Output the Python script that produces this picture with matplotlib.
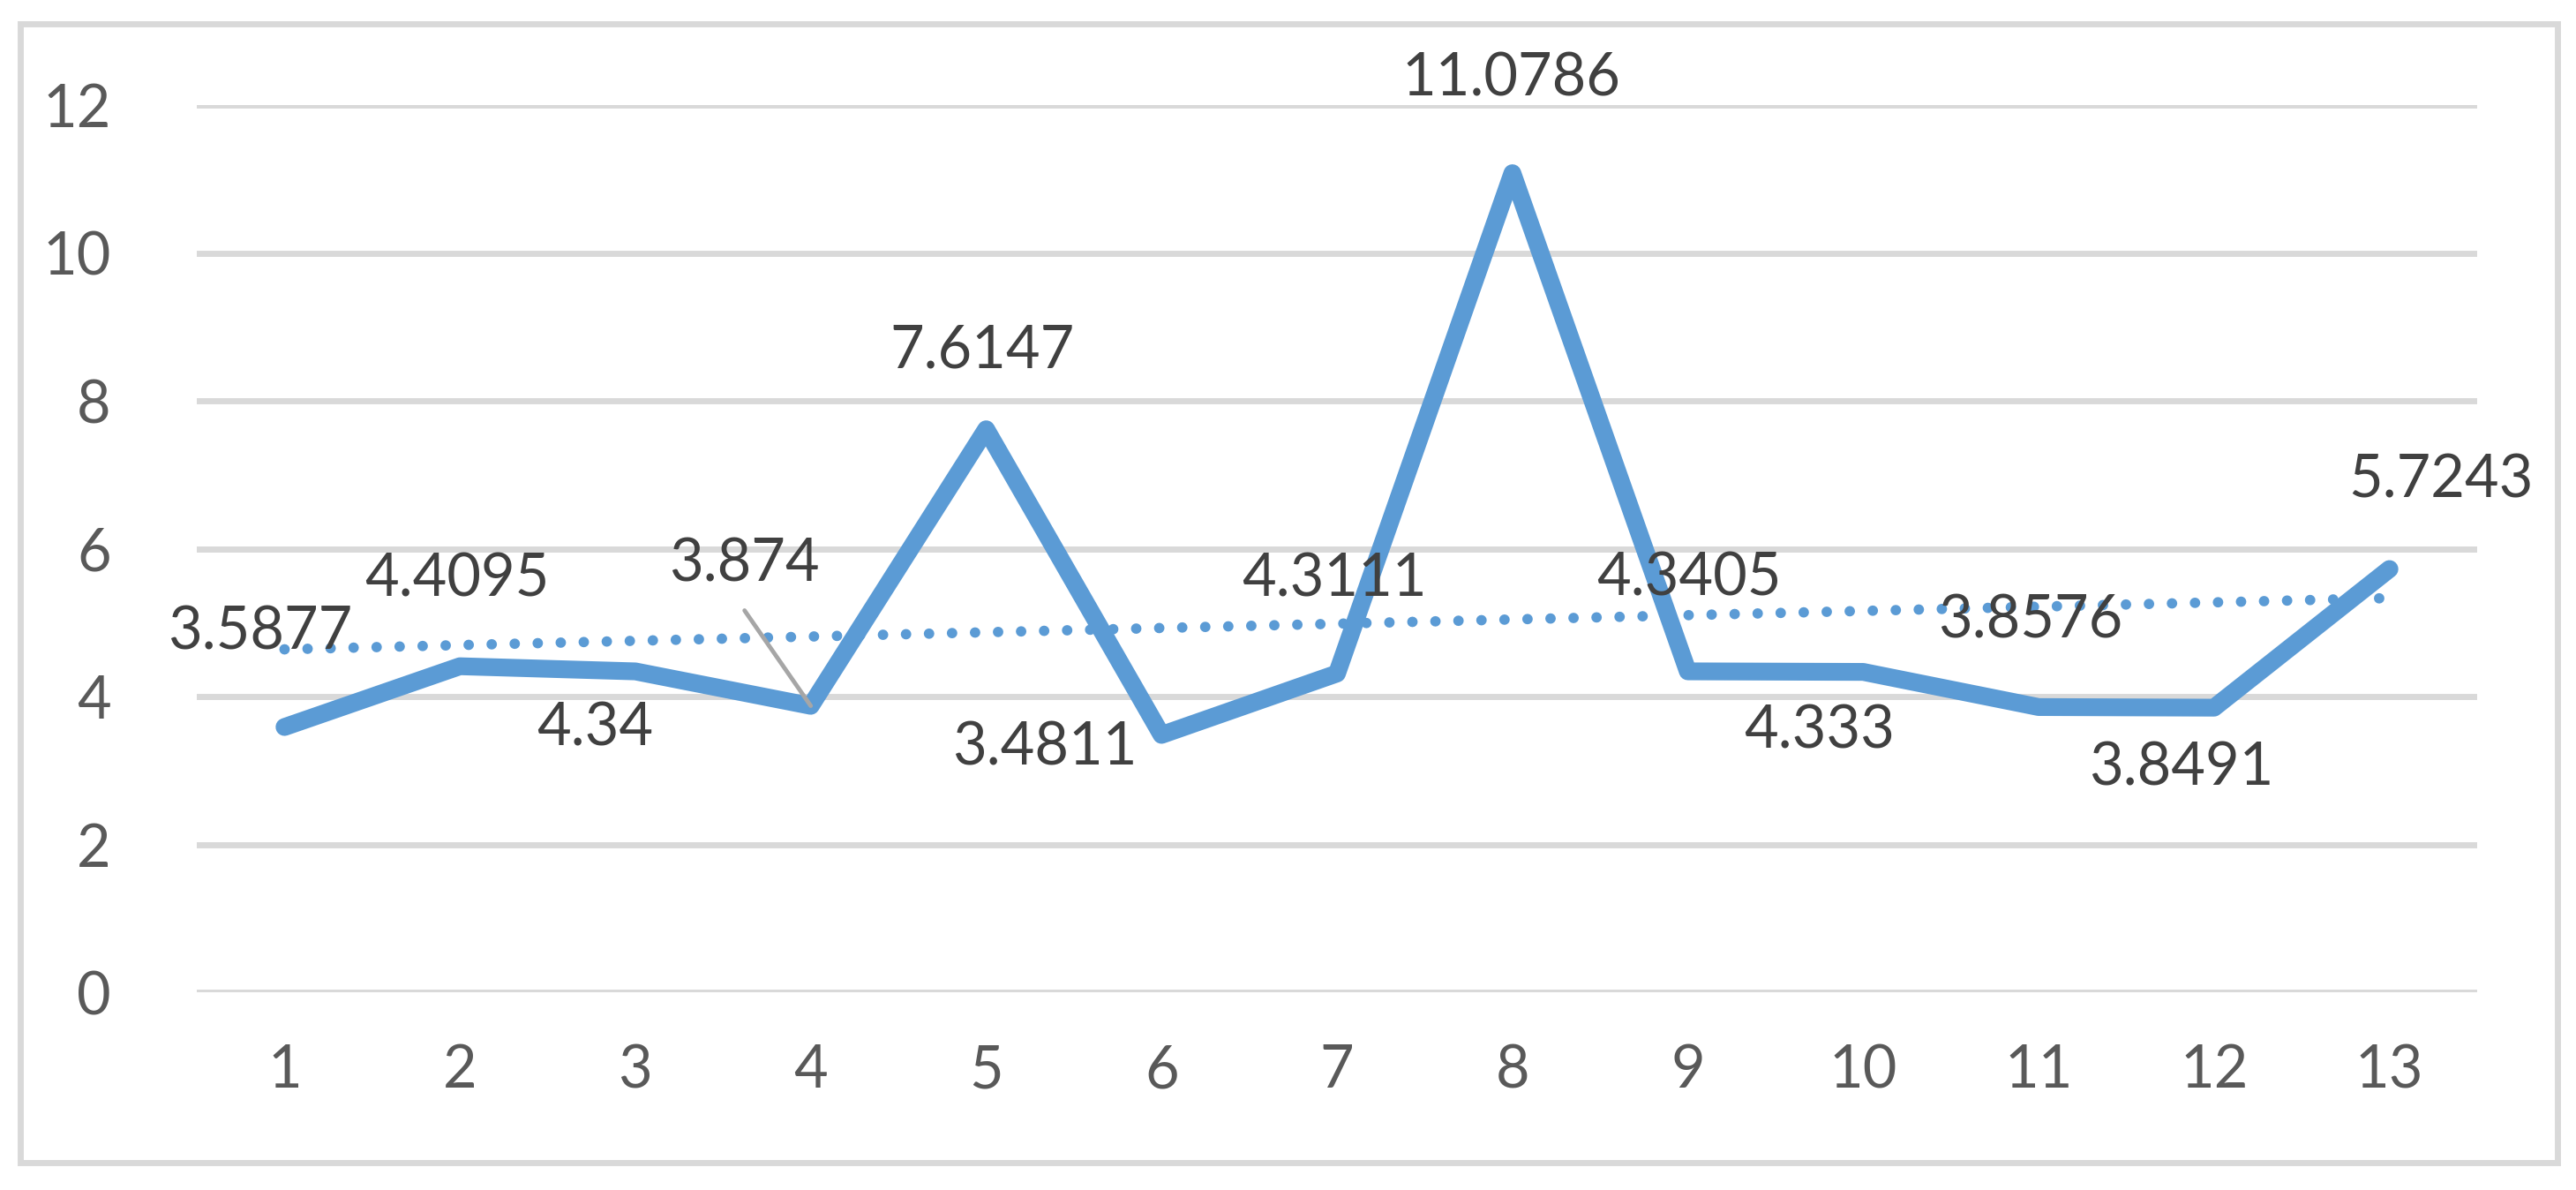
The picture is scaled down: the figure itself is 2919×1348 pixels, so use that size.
import numpy as np
import matplotlib
matplotlib.use('Agg')
import matplotlib.pyplot as plt
from matplotlib.patches import Rectangle

# data
categories = ['1', '2', '3', '4', '5', '6', '7', '8', '9', '10', '11', '12', '13']
values = [3.5877, 4.4095, 4.34, 3.874, 7.6147, 3.4811, 4.3111,
          11.0786, 4.3405, 4.333, 3.8576, 3.8491, 5.7243]
y_ticks = [0, 2, 4, 6, 8, 10, 12]

# label placement (offset in pixels from the point), Excel style
label_offsets = [(-28, 107), (-3, 98), (-46, -65), (-75, 160), (-4, 89),
                 (-132, -15), (-3, 106), (-1, 107), (1, 105), (-50, -67),
                 (-9, 97), (-37, -69), (58, 100)]

blue = '#5B9BD5'
grid_c = '#D9D9D9'

plt.rcParams['font.family'] = ['Lato', 'DejaVu Sans']

fig = plt.figure(figsize=(29.19, 13.48), dpi=100)
ax = fig.add_axes([223 / 2919, 1 - 1124 / 1348, (2807 - 223) / 2919, (1124 - 119) / 1348])

x = np.arange(1, len(values) + 1)

# chart border
fig.patches.append(Rectangle((23 / 2919, 1 - 1317 / 1348), (2898 - 23) / 2919, (1317 - 27) / 1348,
                             transform=fig.transFigure, fill=False, edgecolor=grid_c, linewidth=5))

for yv in y_ticks:
    ax.axhline(yv, color=grid_c, linewidth=5, zorder=0)

ax.plot(x, values, color=blue, linewidth=14.5, solid_capstyle='round', solid_joinstyle='round', zorder=3)

# linear trendline
k, b = np.polyfit(x, values, 1)
ax.plot(x, k * x + b, color=blue, linewidth=8.5, linestyle=(0, (0.01, 2.2)),
        dash_capstyle='round', zorder=2)

for i, (xi, v) in enumerate(zip(x, values)):
    dx, dy = label_offsets[i]
    ax.annotate(str(v), (xi, v), xytext=(dx, dy), textcoords='offset pixels',
                ha='center', va='center', fontsize=48, color='#404040', zorder=5,
                annotation_clip=False)

# leader line for the label at point 4
ax.annotate('', (4, values[3]), xytext=(-75, 108), textcoords='offset pixels',
            arrowprops=dict(arrowstyle='-', color='#A6A6A6', linewidth=3.5, shrinkA=0, shrinkB=0))

ax.set_xlim(0.5, len(values) + 0.5)
ax.set_ylim(0, 12)
ax.set_xticks(x)
ax.set_xticklabels(categories)
ax.set_yticks(y_ticks)
ax.tick_params(axis='both', length=0, labelsize=48, labelcolor='#595959')
ax.tick_params(axis='x', pad=42)
ax.tick_params(axis='y', pad=70)
for s in ax.spines.values():
    s.set_visible(False)

fig.savefig('out.png', dpi=100)
